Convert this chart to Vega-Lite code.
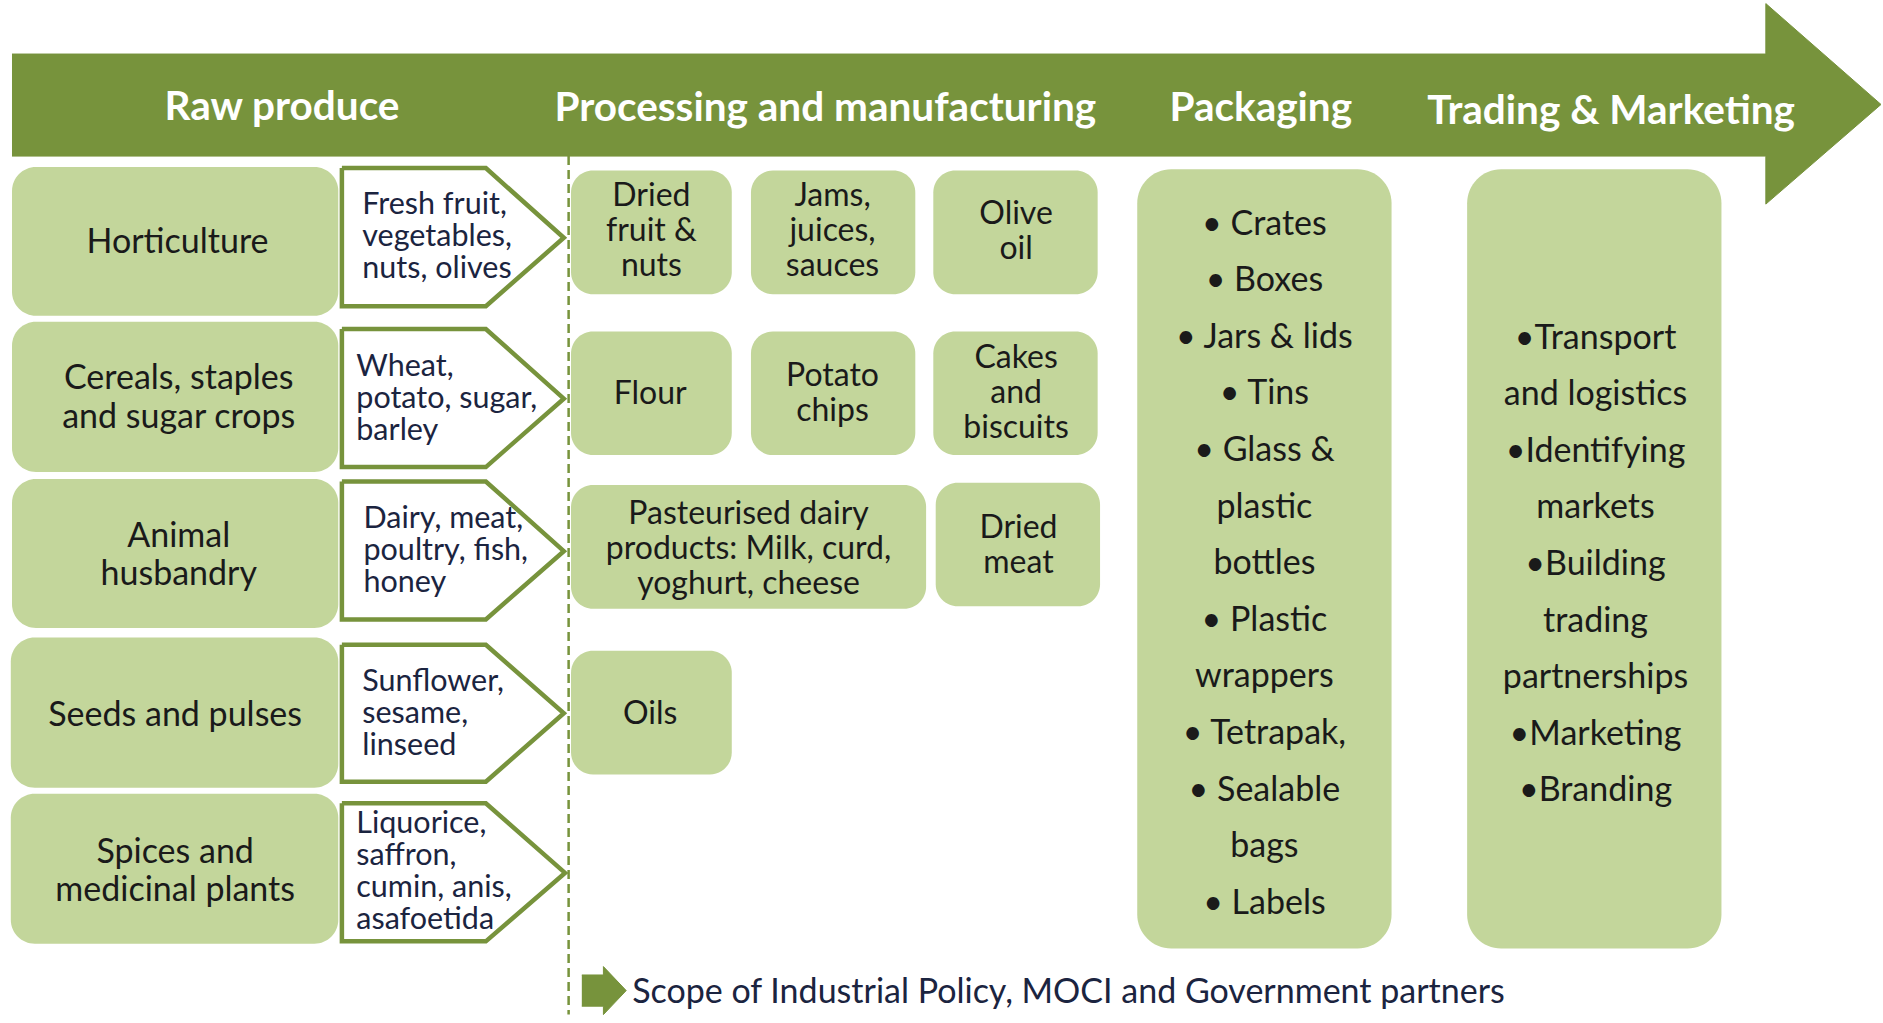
{
  "$schema": "https://vega.github.io/schema/vega-lite/v6.json",
  "width": 1883,
  "height": 1023,
  "padding": 0,
  "autosize": {"type": "fit", "contains": "padding"},
  "background": "white",
  "config": {"view": {"stroke": null}, "font": "Lato"},
  "datasets": {
    "arrows": [
      {"id": "banner", "o": 1, "x": 10, "y": 45},
      {"id": "banner", "o": 2, "x": 1472, "y": 45},
      {"id": "banner", "o": 3, "x": 1472, "y": 3},
      {"id": "banner", "o": 4, "x": 1568, "y": 87},
      {"id": "banner", "o": 5, "x": 1472, "y": 170},
      {"id": "banner", "o": 6, "x": 1472, "y": 130},
      {"id": "banner", "o": 7, "x": 10, "y": 130},
      {"id": "footer", "o": 1, "x": 485, "y": 812},
      {"id": "footer", "o": 2, "x": 503, "y": 812},
      {"id": "footer", "o": 3, "x": 503, "y": 805},
      {"id": "footer", "o": 4, "x": 522, "y": 825},
      {"id": "footer", "o": 5, "x": 503, "y": 845},
      {"id": "footer", "o": 6, "x": 503, "y": 838},
      {"id": "footer", "o": 7, "x": 485, "y": 838}
    ],
    "boxes": [
      {"kind": "left", "x": 10, "x2": 282, "y": 139, "y2": 263},
      {"kind": "left", "x": 10, "x2": 282, "y": 268, "y2": 393},
      {"kind": "left", "x": 10, "x2": 282, "y": 399, "y2": 523},
      {"kind": "left", "x": 9, "x2": 282, "y": 531, "y2": 656},
      {"kind": "left", "x": 9, "x2": 282, "y": 661, "y2": 786},
      {"kind": "proc", "x": 476, "x2": 610, "y": 142, "y2": 245},
      {"kind": "proc", "x": 626, "x2": 763, "y": 142, "y2": 245},
      {"kind": "proc", "x": 778, "x2": 915, "y": 142, "y2": 245},
      {"kind": "proc", "x": 476, "x2": 610, "y": 276, "y2": 379},
      {"kind": "proc", "x": 626, "x2": 763, "y": 276, "y2": 379},
      {"kind": "proc", "x": 778, "x2": 915, "y": 276, "y2": 379},
      {"kind": "proc", "x": 476, "x2": 772, "y": 404, "y2": 507},
      {"kind": "proc", "x": 780, "x2": 917, "y": 402, "y2": 505},
      {"kind": "proc", "x": 476, "x2": 610, "y": 542, "y2": 645},
      {"kind": "big", "x": 948, "x2": 1160, "y": 141, "y2": 790},
      {"kind": "big", "x": 1223, "x2": 1435, "y": 141, "y2": 790}
    ],
    "pentagons": [
      {"row": 1, "o": 1, "x": 285, "y": 140}, {"row": 1, "o": 2, "x": 405, "y": 140}, {"row": 1, "o": 3, "x": 470, "y": 198}, {"row": 1, "o": 4, "x": 405, "y": 255}, {"row": 1, "o": 5, "x": 285, "y": 255}, {"row": 1, "o": 6, "x": 285, "y": 140},
      {"row": 2, "o": 1, "x": 285, "y": 274}, {"row": 2, "o": 2, "x": 405, "y": 274}, {"row": 2, "o": 3, "x": 470, "y": 332}, {"row": 2, "o": 4, "x": 405, "y": 389}, {"row": 2, "o": 5, "x": 285, "y": 389}, {"row": 2, "o": 6, "x": 285, "y": 274},
      {"row": 3, "o": 1, "x": 285, "y": 401}, {"row": 3, "o": 2, "x": 405, "y": 401}, {"row": 3, "o": 3, "x": 470, "y": 459}, {"row": 3, "o": 4, "x": 405, "y": 516}, {"row": 3, "o": 5, "x": 285, "y": 516}, {"row": 3, "o": 6, "x": 285, "y": 401},
      {"row": 4, "o": 1, "x": 285, "y": 537}, {"row": 4, "o": 2, "x": 405, "y": 537}, {"row": 4, "o": 3, "x": 470, "y": 594}, {"row": 4, "o": 4, "x": 405, "y": 651}, {"row": 4, "o": 5, "x": 285, "y": 651}, {"row": 4, "o": 6, "x": 285, "y": 537},
      {"row": 5, "o": 1, "x": 285, "y": 669}, {"row": 5, "o": 2, "x": 405, "y": 669}, {"row": 5, "o": 3, "x": 471, "y": 727}, {"row": 5, "o": 4, "x": 405, "y": 784}, {"row": 5, "o": 5, "x": 285, "y": 784}, {"row": 5, "o": 6, "x": 285, "y": 669}
    ],
    "divider": [{"x": 474, "y": 130, "y2": 845}],
    "headers": [
      {"x": 235, "y": 90, "t": "Raw produce"},
      {"x": 688, "y": 91, "t": "Processing and manufacturing"},
      {"x": 1051, "y": 91, "t": "Packaging"},
      {"x": 1343, "y": 93, "t": "Trading & Marketing"}
    ],
    "lefttext": [
      {"x": 148, "y": 202, "t": "Horticulture"},
      {"x": 149, "y": 316, "t": "Cereals, staples\nand sugar crops"},
      {"x": 149, "y": 447, "t": "Animal\nhusbandry"},
      {"x": 146, "y": 596, "t": "Seeds and pulses"},
      {"x": 146, "y": 710, "t": "Spices and\nmedicinal plants"}
    ],
    "pentext": [
      {"x": 302, "y": 171, "t": "Fresh fruit,\nvegetables,\nnuts, olives"},
      {"x": 297, "y": 306, "t": "Wheat,\npotato, sugar,\nbarley"},
      {"x": 303, "y": 432, "t": "Dairy, meat,\npoultry, fish,\nhoney"},
      {"x": 302, "y": 568, "t": "Sunflower,\nsesame,\nlinseed"},
      {"x": 297, "y": 686, "t": "Liquorice,\nsaffron,\ncumin, anis,\nasafoetida"}
    ],
    "proctext": [
      {"x": 543, "y": 163, "t": "Dried\nfruit &\nnuts"},
      {"x": 694, "y": 163, "t": "Jams,\njuices,\nsauces"},
      {"x": 847, "y": 178, "t": "Olive\noil"},
      {"x": 542, "y": 328, "t": "Flour"},
      {"x": 694, "y": 313, "t": "Potato\nchips"},
      {"x": 847, "y": 298, "t": "Cakes\nand\nbiscuits"},
      {"x": 624, "y": 428, "t": "Pasteurised dairy\nproducts: Milk, curd,\nyoghurt, cheese"},
      {"x": 849, "y": 440, "t": "Dried\nmeat"},
      {"x": 542, "y": 595, "t": "Oils"}
    ],
    "lists": [
      {"x": 1054, "y": 187, "t": "• Crates\n• Boxes\n• Jars & lids\n• Tins\n• Glass &\nplastic\nbottles\n• Plastic\nwrappers\n• Tetrapak,\n• Sealable\nbags\n• Labels"},
      {"x": 1330, "y": 282, "t": "•Transport\nand logistics\n•Identifying\nmarkets\n•Building\ntrading\npartnerships\n•Marketing\n•Branding"}
    ],
    "footer": [{"x": 527, "y": 827, "t": "Scope of Industrial Policy, MOCI and Government partners"}]
  },
  "encoding": {
    "x": {"field": "x", "type": "quantitative", "scale": {"domain": [0, 1568], "nice": false, "zero": false}, "axis": null},
    "y": {"field": "y", "type": "quantitative", "scale": {"domain": [0, 852], "reverse": true, "nice": false, "zero": false}, "axis": null}
  },
  "layer": [
    {
      "data": {"name": "arrows"},
      "mark": {"type": "line", "stroke": "#77933C", "fill": "#77933C", "strokeWidth": 1, "strokeJoin": "miter"},
      "encoding": {"order": {"field": "o"}, "detail": {"field": "id"}}
    },
    {
      "data": {"name": "boxes"},
      "transform": [{"filter": "datum.kind === 'left'"}],
      "mark": {"type": "rect", "color": "#C3D69B", "cornerRadius": 24},
      "encoding": {"x2": {"field": "x2"}, "y2": {"field": "y2"}}
    },
    {
      "data": {"name": "boxes"},
      "transform": [{"filter": "datum.kind === 'proc'"}],
      "mark": {"type": "rect", "color": "#C3D69B", "cornerRadius": 22},
      "encoding": {"x2": {"field": "x2"}, "y2": {"field": "y2"}}
    },
    {
      "data": {"name": "boxes"},
      "transform": [{"filter": "datum.kind === 'big'"}],
      "mark": {"type": "rect", "color": "#C3D69B", "cornerRadius": 34},
      "encoding": {"x2": {"field": "x2"}, "y2": {"field": "y2"}}
    },
    {
      "data": {"name": "pentagons"},
      "mark": {"type": "line", "color": "#77933C", "strokeWidth": 4.5, "strokeJoin": "miter"},
      "encoding": {"order": {"field": "o"}, "detail": {"field": "row"}}
    },
    {
      "data": {"name": "divider"},
      "mark": {"type": "rule", "color": "#77933C", "strokeWidth": 2.5, "strokeDash": [9, 5]},
      "encoding": {"y2": {"field": "y2"}}
    },
    {
      "data": {"name": "headers"},
      "mark": {"type": "text", "color": "white", "fontWeight": "bold", "fontSize": 40.5, "align": "center", "baseline": "middle"},
      "encoding": {"text": {"field": "t"}}
    },
    {
      "data": {"name": "lefttext"},
      "mark": {"type": "text", "color": "#1a1a1a", "fontSize": 34, "lineHeight": 38.4, "lineBreak": "\n", "align": "center", "baseline": "middle"},
      "encoding": {"text": {"field": "t"}}
    },
    {
      "data": {"name": "pentext"},
      "mark": {"type": "text", "color": "#1b2440", "fontSize": 30.5, "lineHeight": 32, "lineBreak": "\n", "align": "left", "baseline": "middle"},
      "encoding": {"text": {"field": "t"}}
    },
    {
      "data": {"name": "proctext"},
      "mark": {"type": "text", "color": "#1a1a1a", "fontSize": 32, "lineHeight": 35, "lineBreak": "\n", "align": "center", "baseline": "middle"},
      "encoding": {"text": {"field": "t"}}
    },
    {
      "data": {"name": "lists"},
      "mark": {"type": "text", "color": "#1a1a1a", "fontSize": 34, "lineHeight": 56.6, "lineBreak": "\n", "align": "center", "baseline": "middle"},
      "encoding": {"text": {"field": "t"}}
    },
    {
      "data": {"name": "footer"},
      "mark": {"type": "text", "color": "#1b2440", "fontSize": 34, "align": "left", "baseline": "middle"},
      "encoding": {"text": {"field": "t"}}
    }
  ]
}
